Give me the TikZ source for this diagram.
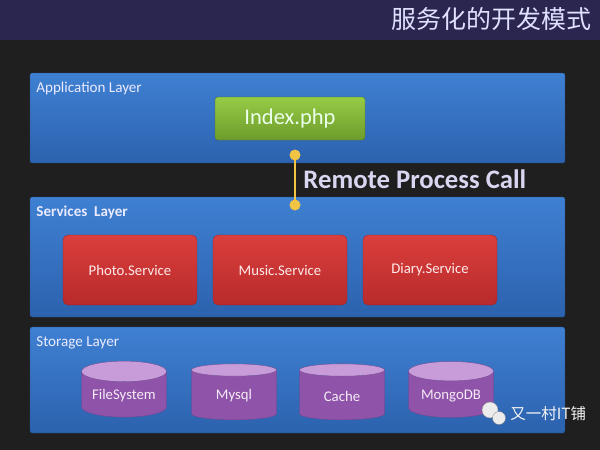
\documentclass[tikz,border=0pt]{standalone}
\usepackage{fontspec}
\setmainfont{Carlito}
\newfontfamily\cjk{Noto Sans CJK SC}
\usetikzlibrary{shapes.geometric,positioning}

\definecolor{pagebg}{HTML}{1F1F20}
\definecolor{headbg}{HTML}{2A2650}
\definecolor{layertop}{HTML}{3F80D2}
\definecolor{layerbot}{HTML}{2C62AE}
\definecolor{apptop}{HTML}{96CB45}
\definecolor{appbot}{HTML}{6E9C2C}
\definecolor{svctop}{HTML}{DA3F3C}
\definecolor{svcbot}{HTML}{B82A2C}
\definecolor{dbbody}{HTML}{8F53AA}
\definecolor{dbend}{HTML}{C79CD8}
\definecolor{rpcline}{HTML}{F2C443}
\definecolor{rpctext}{HTML}{D8D6F0}

\tikzset{
  layerbox/.style={rounded corners=3pt, top color=layertop, bottom color=layerbot,
    draw=layerbot!80!black, minimum width=26.75cm},
  layerlabel/.style={anchor=north west, text=white!92!blue, font=\fontsize{21.5}{23}\selectfont},
  appbox/.style={rounded corners=4pt, top color=apptop, bottom color=appbot,
    draw=appbot!70!black, minimum width=7.5cm, minimum height=2.15cm,
    text=white!92!green, font=\fontsize{32}{34}\selectfont},
  svcbox/.style={rounded corners=7pt, top color=svctop, bottom color=svcbot,
    draw=svcbot!80!black, minimum width=6.7cm, minimum height=3.5cm,
    text=white!92!red, font=\fontsize{21}{22}\selectfont},
  dbcyl/.style={cylinder, shape border rotate=90, aspect=0.3,
    cylinder uses custom fill, cylinder body fill=dbbody, cylinder end fill=dbend,
    draw=dbbody!80!black, minimum width=4.25cm, minimum height=2.8cm,
    text=white!92!violet, font=\fontsize{21}{22}\selectfont},
  rpcdot/.style={circle, fill=rpcline, inner sep=0pt, minimum size=0.55cm}
}

\begin{document}
\begin{tikzpicture}[x=0.05cm, y=-0.05cm]

\useasboundingbox (0,0) rectangle (600,450);
\fill[pagebg] (0,0) rectangle (600,450);
\fill[headbg] (0,0) rectangle (600,40);
\node[anchor=east, text=white!88!blue, font=\cjk\fontsize{35.5}{37}\selectfont] (title) at (594,19) {服务化的开发模式};

% layers
\node[layerbox, minimum height=4.5cm] (app) at (297.5,118) {};
\node[layerbox, minimum height=6cm] (svc) at (297.5,257) {};
\node[layerbox, minimum height=5.3cm] (store) at (297.5,380) {};

\node[layerlabel] (applabel) at ([xshift=0.2cm,yshift=-0.35cm]app.north west) {Application Layer};
\node[layerlabel, font=\bfseries\fontsize{21.5}{23}\selectfont] (svclabel) at ([xshift=0.2cm,yshift=-0.35cm]svc.north west) {Services\ \ Layer};
\node[layerlabel] (storelabel) at ([xshift=0.2cm,yshift=-0.35cm]store.north west) {Storage Layer};

% application
\node[appbox] (index) at (290,118.5) {Index.php};

% remote call
\coordinate (rpctop) at (295,155);
\coordinate (rpcbot) at (295,205);
\draw[rpcline, line width=1.6pt] (rpctop) -- (rpcbot);
\node[rpcdot] at (rpctop) {};
\node[rpcdot] at (rpcbot) {};
\node[anchor=west, text=rpctext, font=\bfseries\fontsize{38}{40}\selectfont] (rpc) at (301,179) {Remote Process Call};

% services
\node[svcbox] (photo) at (130,270) {Photo.Service};
\node[svcbox] (music) at (280,270) {Music.Service};
\node[svcbox] (diary) at (430,270) {Diary.Service};

% storage
\node[dbcyl] (fs) at (124,396) {FileSystem};
\node[dbcyl] (mysql) at (234,396) {Mysql};
\node[dbcyl] (cache) at (342,396) {Cache};
\node[dbcyl] (mongo) at (451,396) {MongoDB};

% watermark
\fill[white!85!gray, draw=gray] (490,410) circle (8);
\fill[white!85!gray, draw=gray] (499,418) circle (6.5);
\node[anchor=west, text=white!92!gray, font=\cjk\fontsize{22}{24}\selectfont] (mark) at (508,414) {又一村IT铺};

\end{tikzpicture}
\end{document}
